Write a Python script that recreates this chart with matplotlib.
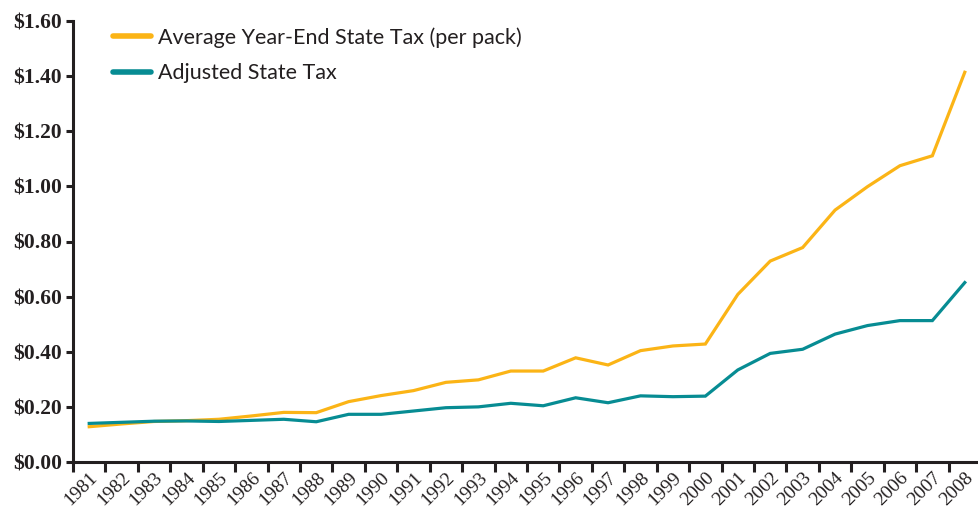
import matplotlib.pyplot as plt
from matplotlib.ticker import FixedLocator, FuncFormatter

years = list(range(1981, 2009))
avg_tax = [0.128, 0.138, 0.147, 0.150, 0.155, 0.167, 0.180, 0.179,
           0.219, 0.241, 0.259, 0.289, 0.298, 0.330, 0.330, 0.378,
           0.352, 0.404, 0.421, 0.428, 0.608, 0.729, 0.778, 0.914,
           0.999, 1.075, 1.111, 1.414]
adj_tax = [0.140, 0.144, 0.148, 0.149, 0.147, 0.151, 0.155, 0.146,
           0.173, 0.173, 0.185, 0.197, 0.200, 0.213, 0.204, 0.233,
           0.215, 0.240, 0.237, 0.239, 0.334, 0.394, 0.409, 0.464,
           0.495, 0.513, 0.513, 0.651]
labels = ['Average Year-End State Tax (per pack)', 'Adjusted State Tax']

W, H = 979, 512
fig = plt.figure(figsize=(W / 100, H / 100), dpi=100)
x0, x1, y0, y1 = 73, 981, 462, 21
ax = fig.add_axes([x0 / W, 1 - y0 / H, (x1 - x0) / W, (y0 - y1) / H])

dark = '#231f20'
xs = list(range(len(years)))
ax.plot(xs, avg_tax, color='#fbb416', lw=2.3, label=labels[0], solid_joinstyle='miter')
ax.plot(xs, adj_tax, color='#078c93', lw=2.3, label=labels[1], solid_joinstyle='miter')

ax.set_xlim(-0.5, len(years) - 0.5)
ax.set_ylim(0, 1.6)
for s in ['top', 'right']:
    ax.spines[s].set_visible(False)
for s in ['left', 'bottom']:
    ax.spines[s].set_linewidth(2.2)
    ax.spines[s].set_color(dark)

ax.yaxis.set_major_locator(FixedLocator([i * 0.2 for i in range(9)]))
ax.yaxis.set_major_formatter(FuncFormatter(lambda v, p: '${:.2f}'.format(v)))
ax.tick_params(axis='y', direction='out', length=5, width=2.2, color=dark,
               pad=3, labelsize=15.5, labelcolor=dark)
for t in ax.get_yticklabels():
    t.set_fontfamily('Liberation Serif')
    t.set_fontweight('bold')

ax.set_xticks(xs)
ax.set_xticklabels([str(y) for y in years], rotation=45, ha='right',
                   rotation_mode='anchor', fontsize=14,
                   fontfamily='Liberation Serif', color=dark)
ax.tick_params(axis='x', which='major', length=0, pad=5)
ax.set_xticks([i - 0.5 for i in range(len(years))], minor=True)
ax.tick_params(axis='x', which='minor', direction='out', length=7, width=2.2, color=dark)

leg = ax.legend(loc='upper left', bbox_to_anchor=((113 - x0) / (x1 - x0), (y0 - 27) / (y0 - y1)),
                frameon=False, borderpad=0, borderaxespad=0,
                prop={'family': 'Lato', 'size': 15.5}, handlelength=1.75,
                handletextpad=0.35, labelspacing=0.72)
for line in leg.get_lines():
    line.set_linewidth(4)
    line.set_solid_capstyle('round')
for t in leg.get_texts():
    t.set_color(dark)

fig.savefig('out.png', dpi=100)
